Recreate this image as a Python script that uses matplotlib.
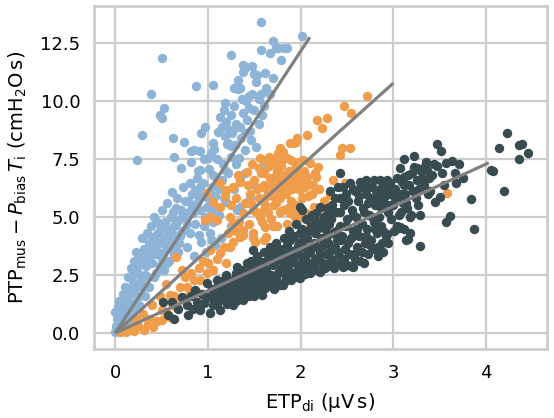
import numpy as np
import matplotlib
matplotlib.use("Agg")
import matplotlib.pyplot as plt

# ---- data (x = ETP_di, y = PTP_mus - P_bias T_i)
blue_pts = [
    (0.00, 0.05), (0.01, 0.30), (0.02, 0.60), (0.00, 0.90), (0.03, 1.10), (0.05, 0.40),
    (0.06, 0.80), (0.04, 1.40), (0.08, 1.20), (0.07, 0.20), (0.10, 0.60), (0.09, 1.70),
    (0.12, 1.00), (0.13, 1.50), (0.11, 2.00), (0.15, 0.80), (0.16, 1.90), (0.14, 2.40),
    (0.18, 1.30), (0.19, 2.20), (0.17, 2.80), (0.21, 1.70), (0.22, 2.60), (0.20, 3.10),
    (0.24, 2.10), (0.25, 3.00), (0.23, 3.50), (0.27, 2.50), (0.28, 3.30), (0.26, 1.20),
    (0.30, 2.00), (0.31, 3.60), (0.29, 4.10), (0.33, 2.90), (0.34, 4.30), (0.32, 1.60),
    (0.36, 3.30), (0.37, 3.90), (0.35, 2.40), (0.39, 4.60), (0.40, 3.00), (0.41, 3.70),
    (0.43, 4.20), (0.44, 2.60), (0.42, 5.00), (0.46, 3.50), (0.47, 3.86), (0.45, 4.80),
    (0.49, 4.51), (0.50, 3.20), (0.52, 4.15), (0.51, 5.30), (0.53, 2.70), (0.55, 3.70),
    (0.57, 4.44), (0.56, 5.60), (0.58, 3.10), (0.60, 4.00), (0.61, 6.09), (0.63, 4.22),
    (0.62, 5.20), (0.64, 3.40), (0.66, 4.70), (0.68, 4.87), (0.67, 5.80), (0.69, 3.90),
    (0.71, 5.30), (0.72, 4.40), (0.74, 4.44), (0.73, 6.30), (0.76, 5.00), (0.77, 3.70),
    (0.79, 5.70), (0.81, 4.30), (0.81, 6.45), (0.83, 5.44), (0.84, 5.16), (0.86, 6.16),
    (0.88, 6.70), (0.90, 5.88), (0.90, 4.22), (0.92, 5.30), (0.92, 6.31), (0.93, 3.94),
    (0.95, 6.45), (0.97, 5.02), (0.99, 5.44), (1.01, 6.09), (1.02, 4.30), (1.04, 6.31),
    (1.04, 5.30), (1.04, 4.01), (1.08, 3.79), (1.06, 4.80), (1.10, 6.59), (1.12, 5.10),
    (1.15, 6.59), (1.17, 5.80), (1.19, 7.03), (1.20, 5.66), (1.22, 6.88), (1.31, 5.30),
    (1.35, 5.44), (1.35, 6.59), (1.42, 5.59), (1.45, 5.80), (1.58, 7.17), (1.62, 7.05),
    (1.28, 6.20), (1.40, 6.90), (1.50, 6.40), (1.25, 4.60), (1.14, 4.10), (0.98, 3.50),
    (0.85, 3.30),
    (0.02, 0.15), (0.04, 0.70), (0.06, 1.10), (0.08, 0.50), (0.10, 1.30), (0.12, 0.30),
    (0.14, 1.80), (0.16, 0.50), (0.18, 2.50), (0.20, 1.00), (0.22, 2.00), (0.24, 2.80),
    (0.26, 1.60), (0.28, 2.20), (0.30, 3.00), (0.32, 2.50), (0.34, 3.60), (0.36, 2.00),
    (0.38, 3.00), (0.40, 4.00), (0.42, 2.40), (0.44, 3.40), (0.46, 4.30), (0.48, 2.90),
    (0.50, 4.00), (0.52, 3.40), (0.54, 4.80), (0.56, 3.00), (0.58, 4.10), (0.60, 5.00),
    (0.62, 3.60), (0.64, 4.60), (0.66, 5.40), (0.68, 3.50), (0.70, 4.20), (0.72, 5.00),
    (0.75, 5.70), (0.78, 4.70), (0.80, 5.20), (0.83, 6.00), (0.86, 4.70), (0.88, 5.60),
    (0.94, 5.90), (0.96, 4.60), (1.00, 5.80), (1.05, 6.80), (1.08, 5.90), (1.12, 6.20),
    (1.16, 7.30), (1.25, 7.60), (1.32, 8.90), (1.40, 8.60), (1.44, 9.70), (1.37, 10.10),
    (1.26, 8.60), (1.48, 10.30), (1.55, 10.10), (1.58, 9.40),
    (0.24, 7.44), (0.29, 8.53), (0.39, 10.31), (0.48, 9.38), (0.50, 9.28), (0.53, 9.71),
    (0.51, 11.87), (0.62, 8.42), (0.64, 7.60), (0.74, 8.25), (0.71, 7.10), (0.82, 7.37),
    (0.82, 7.84), (0.85, 7.89), (0.91, 7.84), (0.89, 6.98), (0.92, 7.01), (1.01, 7.05),
    (0.93, 8.63), (0.87, 10.65), (1.06, 10.69), (1.00, 7.56), (1.03, 7.77), (1.07, 7.92),
    (0.96, 7.49), (1.10, 7.49), (1.21, 8.13), (1.25, 8.06), (1.34, 7.56), (1.11, 8.68),
    (1.15, 8.90), (1.24, 8.75), (1.35, 8.87), (1.20, 9.11), (1.22, 8.18), (1.29, 8.10),
    (1.25, 11.98), (1.38, 11.54), (1.41, 11.48), (1.38, 11.25), (1.50, 11.18), (1.53, 11.10),
    (1.57, 13.42), (1.57, 12.20), (1.67, 12.06), (1.74, 12.27), (1.76, 12.27), (1.85, 12.27),
    (1.79, 11.77), (2.02, 12.80), (1.28, 10.57), (1.32, 10.50), (1.35, 10.57), (1.44, 10.20),
    (1.57, 10.29), (1.41, 10.00), (1.63, 10.55), (1.67, 10.29), (1.47, 8.30), (1.13, 9.30),
    (1.17, 9.60), (1.25, 9.40), (1.30, 9.00), (1.38, 9.50), (1.42, 9.20), (1.45, 8.70),
    (1.50, 9.60), (1.55, 9.00), (1.60, 9.80), (1.28, 9.80), (1.19, 9.90), (1.52, 10.80),
    (1.48, 11.50), (1.62, 11.20), (1.70, 11.00), (1.30, 7.30), (1.40, 7.90), (1.52, 8.00),
    (1.36, 8.40), (1.18, 8.50), (1.05, 8.20), (0.97, 8.90), (1.33, 10.90), (1.70, 12.60),
    (1.82, 12.30),
]

orange_pts = [
    (0.05, 0.05), (0.08, 0.10), (0.12, 0.05), (0.15, 0.20), (0.20, 0.10), (0.25, 0.30),
    (0.31, 0.13), (0.35, 0.40), (0.41, 0.27), (0.45, 0.50), (0.50, 0.56), (0.55, 0.90),
    (0.59, 0.70), (0.59, 1.64), (0.62, 1.20), (0.66, 1.13), (0.70, 1.50), (0.74, 1.42),
    (0.78, 2.00), (0.81, 1.71), (0.88, 1.78), (0.85, 2.30), (0.66, 3.29), (0.72, 2.70),
    (0.99, 2.57), (1.06, 2.72), (1.02, 3.58), (1.13, 3.44), (1.24, 3.72), (1.20, 3.00),
    (1.27, 3.94), (0.95, 3.10), (0.90, 2.80), (0.75, 2.40), (0.55, 2.10), (0.48, 1.60),
    (0.40, 1.20), (0.30, 0.80), (0.22, 0.60),
    (2.72, 10.23), (2.47, 9.78), (2.54, 9.47), (2.18, 9.18), (2.28, 9.25), (2.23, 8.82),
    (2.07, 8.53), (1.96, 8.39), (1.93, 8.18), (1.95, 8.25), (1.89, 8.18), (2.45, 7.96),
    (2.53, 7.96), (2.43, 7.67), (2.19, 7.17), (2.48, 6.48), (2.32, 5.95), (3.58, 6.05),
    (1.78, 7.96), (1.81, 7.81), (1.76, 7.74), (1.56, 7.53), (1.63, 7.46), (1.69, 7.48),
    (1.72, 7.31), (1.80, 7.46), (1.85, 7.53), (1.90, 7.46), (1.98, 7.38), (2.03, 7.46),
    (2.10, 7.31), (1.42, 6.95), (1.33, 6.81), (1.35, 6.52), (1.27, 6.31), (1.20, 6.16),
    (1.13, 6.45), (0.99, 6.02), (1.06, 5.66), (1.13, 5.44), (1.02, 5.02), (0.97, 4.87),
    (1.10, 4.87), (1.24, 5.02), (1.27, 4.73), (1.38, 5.16), (1.49, 5.30), (1.38, 4.44),
    (1.35, 4.15), (1.49, 4.08), (1.62, 4.58), (1.63, 4.15), (1.74, 5.59), (1.81, 5.30),
    (1.92, 5.16), (1.99, 5.02), (2.06, 5.16), (2.14, 5.44), (2.21, 5.30), (2.28, 5.02),
    (2.28, 4.44), (1.80, 6.20), (1.99, 6.16), (2.07, 6.45), (2.17, 6.74), (2.10, 4.73),
    (1.49, 4.30), (1.51, 3.94), (1.60, 4.01), (1.38, 4.22), (1.71, 5.52), (1.89, 5.16),
    (1.94, 5.02), (2.07, 6.74), (2.05, 6.31), (1.96, 6.24), (1.92, 6.59),
    (1.45, 6.00), (1.50, 6.60), (1.55, 5.80), (1.58, 6.30), (1.60, 6.90), (1.62, 5.50),
    (1.65, 6.10), (1.67, 6.70), (1.70, 5.90), (1.72, 6.50), (1.75, 7.00), (1.77, 6.30),
    (1.78, 5.80), (1.82, 6.80), (1.84, 6.00), (1.86, 6.50), (1.88, 7.00), (1.90, 5.70),
    (1.93, 6.90), (1.95, 5.50), (2.00, 6.90), (2.02, 5.80), (2.12, 6.00), (2.15, 6.90),
    (2.20, 6.20), (1.52, 5.20), (1.58, 4.80), (1.68, 4.90), (1.75, 4.60), (1.85, 4.70),
    (1.30, 5.80), (1.25, 5.50), (1.18, 5.90), (1.44, 4.70), (1.40, 5.60), (1.55, 7.10),
    (1.48, 7.30), (1.66, 7.60), (2.25, 5.70), (2.35, 6.60),
    (1.43, 6.40), (1.47, 5.60), (1.53, 6.20), (1.57, 6.90), (1.61, 6.40), (1.64, 5.90),
    (1.66, 7.20), (1.69, 6.40), (1.71, 6.00), (1.73, 6.80), (1.76, 6.60), (1.79, 7.20),
    (1.81, 6.00), (1.83, 6.50), (1.87, 6.20), (1.89, 6.80), (1.91, 6.20), (1.94, 7.10),
    (1.97, 6.60), (2.01, 6.50), (2.04, 7.00), (2.08, 5.90), (2.13, 6.40), (1.56, 5.00),
    (1.60, 5.30), (1.65, 5.20), (1.70, 4.60), (1.78, 5.20), (1.86, 5.40), (1.34, 4.80),
    (1.30, 4.40), (1.22, 4.30), (1.17, 3.70), (1.10, 3.20), (1.00, 3.00), (0.92, 2.30),
    (0.82, 2.60), (0.70, 2.00), (0.64, 1.60), (0.50, 1.00), (0.38, 0.60),
]

dark_pts = [
    (0.52, 1.35), (0.57, 0.78), (0.61, 1.32), (0.63, 0.62), (0.68, 1.05), (0.72, 1.55),
    (0.77, 1.21), (0.79, 0.78), (0.82, 1.60), (0.86, 1.85), (0.84, 1.05), (0.88, 1.35),
    (0.92, 0.99), (0.94, 1.70), (0.96, 1.30), (0.99, 2.14), (1.00, 1.55), (1.02, 0.85),
    (1.04, 1.90), (1.06, 1.20),
    (1.08, 1.60), (1.10, 2.28), (1.11, 1.35), (1.13, 0.99), (1.14, 1.90), (1.16, 1.55),
    (1.18, 2.10), (1.20, 2.50), (1.21, 1.25), (1.23, 1.75), (1.24, 2.25), (1.26, 1.50),
    (1.27, 1.21), (1.28, 2.00), (1.30, 2.60), (1.31, 2.86), (1.32, 1.70), (1.33, 2.30),
    (1.35, 1.45), (1.36, 2.05), (1.37, 2.72), (1.38, 1.42), (1.38, 1.71), (1.40, 2.40),
    (1.41, 1.95), (1.42, 3.00), (1.43, 2.20), (1.44, 1.60), (1.45, 2.65), (1.46, 1.85),
    (1.47, 3.10), (1.48, 2.35), (1.49, 3.58), (1.50, 2.00), (1.50, 1.60), (1.52, 2.80),
    (1.53, 3.30), (1.54, 2.20), (1.56, 1.85), (1.57, 2.55),
    (1.58, 1.64), (1.58, 3.05), (1.60, 2.35), (1.61, 3.50), (1.62, 1.95), (1.63, 2.75),
    (1.65, 3.20), (1.66, 2.10), (1.67, 3.70), (1.68, 2.50), (1.70, 2.95), (1.71, 1.90),
    (1.72, 3.40), (1.73, 2.25), (1.74, 3.90), (1.75, 3.19), (1.76, 2.60), (1.77, 2.05),
    (1.78, 3.60), (1.78, 2.07), (1.80, 2.90), (1.81, 2.07), (1.82, 4.10), (1.83, 3.30),
    (1.84, 2.45), (1.85, 3.80), (1.86, 2.75), (1.87, 4.40), (1.88, 3.10), (1.89, 4.01),
    (1.90, 2.30), (1.91, 3.55), (1.92, 2.60), (1.93, 4.20), (1.94, 3.00), (1.95, 4.70),
    (1.96, 2.40), (1.97, 3.40), (1.98, 3.90), (1.99, 5.44), (1.99, 2.36), (2.00, 2.80),
    (2.01, 5.30), (2.02, 4.50), (2.03, 3.20),
    (2.04, 3.70), (2.05, 2.55), (2.06, 4.90), (2.07, 4.10), (2.08, 3.00), (2.10, 2.57),
    (2.10, 3.50), (2.11, 4.60), (2.12, 5.10), (2.13, 2.80), (2.14, 3.90), (2.15, 4.30),
    (2.16, 3.20), (2.17, 5.16), (2.18, 2.70), (2.19, 4.80), (2.20, 3.60), (2.21, 5.44),
    (2.21, 2.62), (2.22, 4.10), (2.24, 3.00), (2.25, 5.00), (2.26, 4.50), (2.27, 3.40),
    (2.28, 5.37), (2.29, 2.90), (2.30, 3.90), (2.31, 4.70), (2.32, 6.10), (2.33, 3.20),
    (2.34, 5.50), (2.35, 4.30), (2.36, 2.80), (2.37, 3.70), (2.38, 5.20), (2.39, 4.00),
    (2.40, 6.30), (2.41, 3.30), (2.42, 6.88), (2.42, 4.60), (2.43, 5.80), (2.44, 3.00),
    (2.45, 4.20), (2.46, 2.86), (2.47, 5.50), (2.48, 3.60), (2.49, 6.00), (2.50, 4.90),
    (2.50, 2.93), (2.51, 3.90),
    (2.53, 6.45), (2.54, 2.90), (2.55, 5.30), (2.56, 2.86), (2.57, 4.40), (2.58, 3.40),
    (2.59, 6.10), (2.60, 5.00), (2.61, 3.70), (2.62, 5.70), (2.63, 4.20), (2.64, 3.10),
    (2.65, 6.30), (2.66, 4.70), (2.67, 5.40), (2.68, 3.00), (2.69, 3.90), (2.70, 6.00),
    (2.71, 6.59), (2.72, 4.50), (2.73, 3.40), (2.74, 5.10), (2.75, 5.80), (2.76, 4.00),
    (2.77, 6.30), (2.78, 3.60), (2.79, 4.80), (2.80, 5.50), (2.81, 6.10), (2.82, 4.30),
    (2.83, 3.30), (2.84, 5.90), (2.85, 5.00), (2.86, 6.59), (2.87, 4.60), (2.88, 3.90),
    (2.89, 3.50), (2.90, 5.60), (2.91, 6.30), (2.92, 4.20), (2.93, 4.27), (2.94, 5.20),
    (2.95, 6.00), (2.96, 6.45), (2.98, 4.90),
    (3.00, 5.50), (3.01, 4.40), (3.02, 6.20), (3.04, 4.63), (3.05, 5.90), (3.06, 4.54),
    (3.07, 7.10), (3.07, 4.58), (3.08, 5.20), (3.09, 6.50), (3.10, 5.60), (3.11, 6.74),
    (3.11, 7.48), (3.11, 4.48), (3.13, 6.00), (3.14, 4.01), (3.15, 5.40), (3.16, 4.04),
    (3.17, 6.40), (3.18, 4.30), (3.19, 5.09), (3.20, 6.90), (3.22, 7.17), (3.22, 7.63),
    (3.24, 5.80), (3.26, 6.60), (3.28, 6.20), (3.29, 5.09), (3.29, 3.75), (3.30, 7.00),
    (3.33, 6.40), (3.35, 7.38), (3.36, 7.03), (3.38, 6.70), (3.40, 6.10),
    (3.45, 5.66), (3.47, 7.21), (3.47, 8.13), (3.50, 5.88), (3.51, 7.86), (3.52, 6.90),
    (3.55, 6.40), (3.57, 7.31), (3.57, 4.77), (3.61, 5.06), (3.63, 7.43), (3.66, 6.90),
    (3.68, 6.45), (3.71, 7.28), (3.75, 6.67), (3.84, 5.78), (3.87, 4.47), (4.05, 7.03),
    (4.08, 7.00), (4.14, 7.99), (4.19, 6.13), (4.23, 8.63), (4.35, 8.10), (4.39, 8.15),
    (4.35, 7.48), (4.45, 7.74),
    (1.05, 1.45), (1.09, 1.95), (1.12, 1.70), (1.15, 2.25), (1.19, 1.45), (1.22, 2.05),
    (1.25, 1.80), (1.29, 2.35), (1.30, 1.40), (1.34, 1.90), (1.37, 2.45), (1.39, 1.55),
    (1.42, 2.15), (1.45, 2.90), (1.47, 1.75), (1.51, 2.50), (1.53, 1.95), (1.55, 3.00),
    (1.59, 2.70), (1.61, 2.10), (1.64, 2.45), (1.66, 3.45), (1.69, 2.25), (1.71, 3.15),
    (1.74, 2.40), (1.76, 3.55), (1.79, 2.75), (1.81, 3.10), (1.83, 2.25), (1.86, 3.45),
    (1.88, 2.55), (1.90, 4.20), (1.92, 3.20), (1.95, 2.65), (1.97, 3.75), (1.99, 4.30),
    (2.01, 3.05), (2.03, 4.00), (2.06, 3.35), (2.08, 4.40), (2.09, 2.75), (2.12, 3.70),
    (2.14, 4.95), (2.16, 3.00), (2.18, 4.50), (2.20, 3.30), (2.23, 4.80), (2.24, 3.80),
    (2.26, 2.80), (2.28, 4.20), (2.30, 5.20), (2.31, 3.50), (2.33, 4.90), (2.35, 3.00),
    (2.37, 5.80), (2.38, 4.40), (2.40, 3.50), (2.42, 5.20), (2.44, 4.00), (2.46, 6.30),
    (2.47, 3.20), (2.49, 4.60), (2.51, 5.70), (2.52, 3.40), (2.54, 4.10), (2.56, 6.20),
    (2.57, 5.10), (2.59, 3.20), (2.61, 4.50), (2.63, 5.90), (2.64, 6.50), (2.66, 3.50),
    (2.68, 5.20), (2.70, 4.20), (2.72, 6.30), (2.73, 5.60), (2.75, 3.80), (2.77, 5.00),
    (2.79, 6.60), (2.80, 4.50), (2.82, 5.70), (2.84, 3.70), (2.86, 6.20), (2.87, 5.40),
    (2.89, 4.40), (2.91, 5.90), (2.93, 6.60), (2.94, 3.90), (2.96, 5.50), (2.98, 6.20),
    (3.02, 5.80), (3.04, 6.70), (3.06, 5.10), (3.08, 6.00), (3.12, 6.40), (3.14, 5.60),
    (3.16, 6.80), (3.18, 5.00), (3.21, 6.10), (3.25, 7.10), (3.27, 5.50), (3.31, 6.70),
    (3.34, 7.20), (3.37, 6.00), (3.42, 6.80), (3.44, 7.30),
]

# fitted slopes through the origin and the x where each fit line stops
fit_slopes = [6.07, 3.59, 1.82]
fit_xmax = [2.10, 3.00, 4.03]

colors = ["#8db4d6", "#f09d4b", "#384b50"]
line_color = "#808080"
grid_color = "#cccccc"

x_ticks = [0, 1, 2, 3, 4]
y_ticks = [0.0, 2.5, 5.0, 7.5, 10.0, 12.5]


fig = plt.figure(figsize=(5.54, 4.18), dpi=100)
ax = fig.add_axes([0.170, 0.165, 0.817, 0.821])

##########
# scatter the three groups
for pts, c in zip([blue_pts, orange_pts, dark_pts], colors):
    pts = np.array(pts)
    ax.scatter(pts[:, 0], pts[:, 1], s=46, color=c, linewidths=0, zorder=2)

##########
# fit lines
for slope, xm in zip(fit_slopes, fit_xmax):
    xx = np.array([0.0, xm])
    ax.plot(xx, slope * xx, color=line_color, lw=2.3, zorder=3,
            solid_capstyle="butt")

ax.set_xlim(-0.226, 4.655)
ax.set_ylim(-0.69, 14.1)
ax.set_xticks(x_ticks)
ax.set_yticks(y_ticks)
ax.set_yticklabels(["%.1f" % v for v in y_ticks])

ax.grid(True, color=grid_color, lw=1.6, zorder=0)
ax.set_axisbelow(True)
for sp in ax.spines.values():
    sp.set_color(grid_color)
    sp.set_linewidth(2.0)
ax.tick_params(length=0, labelsize=13)
ax.tick_params(axis="x", pad=11)
ax.tick_params(axis="y", pad=10)

ax.set_xlabel(r"ETP$_{\mathrm{di}}$ ($\mathrm{\mu}$V$\,$s)", fontsize=14, labelpad=6)
ax.set_ylabel(r"PTP$_{\mathrm{mus}} - P_{\mathrm{bias}}\,T_{\mathrm{i}}$ (cmH$_2$O$\,$s)",
              fontsize=14, labelpad=8)

fig.savefig("out.png", dpi=100)
